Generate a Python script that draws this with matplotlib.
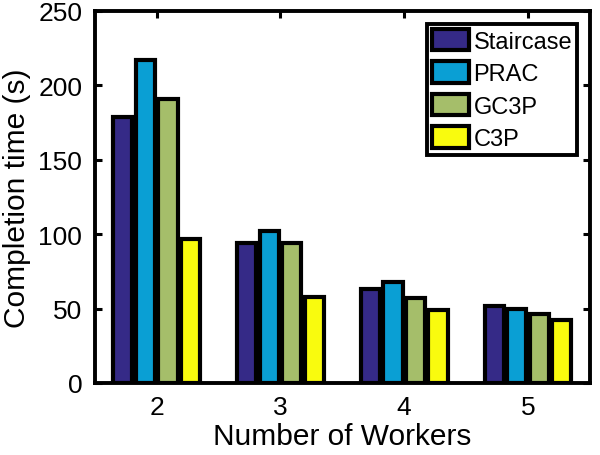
import numpy as np
import matplotlib.pyplot as plt

plt.rcParams['font.family'] = ['Liberation Sans', 'DejaVu Sans']

workers = [2, 3, 4, 5]
series = ['Staircase', 'PRAC', 'GC3P', 'C3P']
staircase = [179, 94, 63, 52]
prac = [217, 102, 68, 50]
gc3p = [191, 94, 57, 46]
c3p = [97, 58, 49, 42]
colors = ['#352a87', '#0a9fd4', '#a5be6a', '#f9fb0e']

values = [staircase, prac, gc3p, c3p]

fig = plt.figure(figsize=(6, 4.56), dpi=100)
ax = fig.add_axes([0.158, 0.158, 0.825, 0.816])

x = np.arange(len(workers)) + 2
step = 0.182
width = 0.155
for i, (name, vals) in enumerate(zip(series, values)):
    ax.bar(x + (i - 1.5) * step, vals, width, color=colors[i],
           edgecolor='black', linewidth=3.0, label=name, zorder=2)

ax.set_xlim(1.5, 5.5)
ax.set_ylim(0, 250)
ax.set_xticks(x)
ax.set_xticklabels([str(w) for w in workers])
ax.set_yticks(np.arange(0, 251, 50))
ax.tick_params(direction='in', length=5, width=2.2, labelsize=19,
               top=True, right=True, pad=9)
for s in ax.spines.values():
    s.set_linewidth(2.8)
    s.set_zorder(3)

ax.set_xlabel('Number of Workers', fontsize=21.5, labelpad=2)
ax.set_ylabel('Completion time (s)', fontsize=21.5, labelpad=5)

leg = ax.legend(loc='upper right', fontsize=17, fancybox=False,
                framealpha=1, edgecolor='black', handlelength=1.55,
                handleheight=1.05, handletextpad=0.2, labelspacing=0.36,
                borderpad=0.2, borderaxespad=0.55)
leg.get_frame().set_linewidth(2.8)

fig.savefig('out.png', dpi=100)
